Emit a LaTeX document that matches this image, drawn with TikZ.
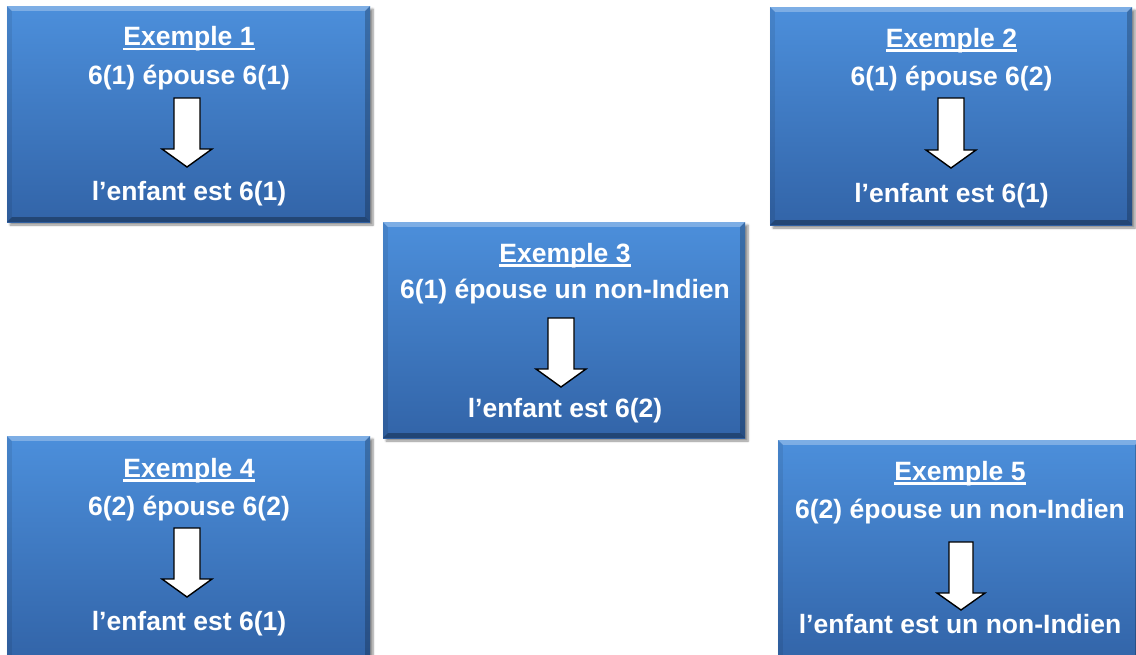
\documentclass[tikz,border=0pt]{standalone}
\usepackage{fontspec}
\setmainfont{Liberation Sans}
\usetikzlibrary{calc,shadows.blur}
\definecolor{boxtop}{RGB}{76,143,219}
\definecolor{boxbot}{RGB}{50,100,168}
\newcommand\ulx[1]{\setbox0\hbox{#1}\rlap{\rule[-4.6pt]{\wd0}{2.6pt}}\box0}
\newcommand\bevelbox[1]{%
  \fill[white,opacity=0.28] (#1.north west) -- (#1.north east) -- ($(#1.north east)+(-5,5)$) -- ($(#1.north west)+(5,5)$) -- cycle;
  \fill[black,opacity=0.08] (#1.north west) -- ($(#1.north west)+(5,5)$) -- ($(#1.south west)+(5,-5)$) -- (#1.south west) -- cycle;
  \fill[black,opacity=0.22] (#1.north east) -- ($(#1.north east)+(-5,5)$) -- ($(#1.south east)+(-5,-5)$) -- (#1.south east) -- cycle;
  \fill[black,opacity=0.30] (#1.south west) -- ($(#1.south west)+(5,-5)$) -- ($(#1.south east)+(-5,-5)$) -- (#1.south east) -- cycle;}
\tikzset{
  exbox/.style={rectangle, inner sep=0pt, top color=boxtop, bottom color=boxbot,
    blur shadow={shadow xshift=3pt, shadow yshift=-3pt, shadow blur steps=6, shadow opacity=45}},
  txt/.style={anchor=base, text=white, inner sep=0pt, font=\fontsize{26.5}{30}\selectfont\bfseries},
  blockarrow/.style={fill=white, draw=black, line width=1.4pt, line join=miter},
}
\begin{document}
\begin{tikzpicture}[x=1pt,y=-1pt]
\useasboundingbox (0,0) rectangle (1136,654);
% Box 1
\node[exbox, minimum width=363pt, minimum height=216pt] (b1) at (188.5,114) {};
\bevelbox{b1}
\node[txt] (t1) at (189,45.5) {\ulx{Exemple 1}};
\node[txt] (s1) at (189,84) {6(1) épouse 6(1)};
\node[txt] (r1) at (189,200) {l’enfant est 6(1)};
\coordinate (a1) at (187,98);
\draw[blockarrow] (a1) ++(-13,0) -- ++(26,0) -- ++(0,51) -- ++(12,0) -- ++(-25,18) -- ++(-25,-18) -- ++(12,0) -- cycle;
% Box 2
\node[exbox, minimum width=362pt, minimum height=218pt] (b2) at (951,116) {};
\bevelbox{b2}
\node[txt] (t2) at (951.5,47) {\ulx{Exemple 2}};
\node[txt] (s2) at (951.5,85) {6(1) épouse 6(2)};
\node[txt] (r2) at (951.5,202) {l’enfant est 6(1)};
\coordinate (a2) at (951,98);
\draw[blockarrow] (a2) ++(-13,0) -- ++(26,0) -- ++(0,52) -- ++(12,0) -- ++(-25,18) -- ++(-25,-18) -- ++(12,0) -- cycle;
% Box 3
\node[exbox, minimum width=362pt, minimum height=216pt] (b3) at (564,330) {};
\bevelbox{b3}
\node[txt] (t3) at (565,262) {\ulx{Exemple 3}};
\node[txt] (s3) at (565,298) {6(1) épouse un non-Indien};
\node[txt] (r3) at (565,417) {l’enfant est 6(2)};
\coordinate (a3) at (561,318);
\draw[blockarrow] (a3) ++(-13,0) -- ++(26,0) -- ++(0,51) -- ++(12,0) -- ++(-25,18) -- ++(-25,-18) -- ++(12,0) -- cycle;
% Box 4
\node[exbox, minimum width=363pt, minimum height=224pt] (b4) at (188.5,548) {};
\bevelbox{b4}
\node[txt] (t4) at (189,477) {\ulx{Exemple 4}};
\node[txt] (s4) at (189,515) {6(2) épouse 6(2)};
\node[txt] (r4) at (189,630) {l’enfant est 6(1)};
\coordinate (a4) at (187,528);
\draw[blockarrow] (a4) ++(-13,0) -- ++(26,0) -- ++(0,51) -- ++(12,0) -- ++(-25,18) -- ++(-25,-18) -- ++(12,0) -- cycle;
% Box 5
\node[exbox, minimum width=362pt, minimum height=222pt] (b5) at (959,551) {};
\bevelbox{b5}
\node[txt] (t5) at (960,480) {\ulx{Exemple 5}};
\node[txt] (s5) at (960,518) {6(2) épouse un non-Indien};
\node[txt] (r5) at (960,633) {l’enfant est un non-Indien};
\coordinate (a5) at (961,542);
\draw[blockarrow] (a5) ++(-12,0) -- ++(24,0) -- ++(0,51) -- ++(12,0) -- ++(-24,17) -- ++(-24,-17) -- ++(12,0) -- cycle;
\end{tikzpicture}
\end{document}
